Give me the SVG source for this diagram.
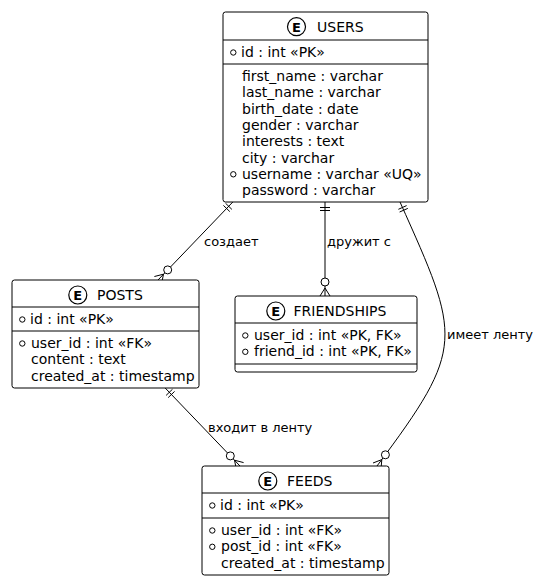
<svg xmlns="http://www.w3.org/2000/svg" width="538" height="581" viewBox="0 0 538 581">
<style>
text{font-family:"DejaVu Sans","Liberation Sans",sans-serif;fill:#000}
.box{fill:#fff;stroke:#000;stroke-width:1}
.sep{stroke:#000;stroke-width:1}
.t{font-size:14px}
.a{font-size:14px}
.spot{fill:#fff;stroke:#000;stroke-width:1.2}
.spotE{font-size:13px;font-weight:bold;text-anchor:middle}
.mk{fill:none;stroke:#000;stroke-width:1}
.ln{fill:none;stroke:#000;stroke-width:1}
.cir{fill:#fff;stroke:#000;stroke-width:1}
.lbl{font-size:13px}
</style>
<g id="connectors">
  <!-- USERS -> POSTS -->
  <path class="ln" d="M232.8,202 L158,280"/>
  <path class="ln" d="M225.5,203.2 L231.9,209.4 M223.4,205.4 L229.8,211.6"/>
  <path class="ln" d="M163.5,274.2 L161.6,283.5 M163.5,274.2 L154.4,276.5"/>
  <circle class="cir" cx="167.7" cy="269.9" r="4"/>
  <text class="lbl" x="204" y="246">создает</text>
  <!-- USERS -> FRIENDSHIPS -->
  <path class="ln" d="M325,202 L325,296"/>
  <path class="ln" d="M320,207.5 L330,207.5 M320,210.5 L330,210.5"/>
  <path class="ln" d="M325,288 L320,296 M325,288 L330,296"/>
  <circle class="cir" cx="325" cy="282" r="4"/>
  <text class="lbl" x="327" y="246">дружит с</text>
  <!-- USERS -> FEEDS -->
  <path class="ln" d="M400,202 C461,338 466,347 377,466"/>
  <path class="ln" d="M406.6,205.6 L398.4,209.3 M407.8,208.4 L399.6,212"/>
  <path class="ln" d="M381.8,459.6 L381,469 M381.8,459.6 L373,463"/>
  <circle class="cir" cx="385.4" cy="454.8" r="4"/>
  <text class="lbl" x="447" y="339">имеет ленту</text>
  <!-- POSTS -> FEEDS -->
  <path class="ln" d="M165.2,388 L240,466"/>
  <path class="ln" d="M172.5,389.2 L166.1,395.4 M174.6,391.4 L168.2,397.6"/>
  <path class="ln" d="M234.5,460.2 L243.6,462.6 M234.5,460.2 L236.4,469.5"/>
  <circle class="cir" cx="230.3" cy="455.9" r="4"/>
  <text class="lbl" x="208" y="432">входит в ленту</text>
</g>
<g id="users">
  <rect class="box" x="223" y="12" width="205" height="190" rx="2.5"/>
  <circle class="spot" cx="296.5" cy="26.7" r="9"/>
  <text class="spotE" x="296.5" y="31.5">E</text>
  <text class="t" x="317" y="31.7">USERS</text>
  <line class="sep" x1="223" y1="40" x2="428" y2="40"/>
  <circle class="mk" cx="233.3" cy="52.5" r="2.7"/>
  <text class="a" x="241" y="57">id : int «PK»</text>
  <line class="sep" x1="223" y1="64" x2="428" y2="64"/>
  <text class="a" x="242" y="81">first_name : varchar</text>
  <text class="a" x="242" y="97.3">last_name : varchar</text>
  <text class="a" x="242" y="113.6">birth_date : date</text>
  <text class="a" x="242" y="129.9">gender : varchar</text>
  <text class="a" x="242" y="146.2">interests : text</text>
  <text class="a" x="242" y="162.5">city : varchar</text>
  <circle class="mk" cx="233.3" cy="174.3" r="2.7"/>
  <text class="a" x="242" y="178.8">username : varchar «UQ»</text>
  <text class="a" x="242" y="195.1">password : varchar</text>
</g>
<g id="posts">
  <rect class="box" x="12" y="280" width="187" height="108" rx="2.5"/>
  <circle class="spot" cx="77.8" cy="295" r="9"/>
  <text class="spotE" x="77.8" y="299.8">E</text>
  <text class="t" x="97" y="300">POSTS</text>
  <line class="sep" x1="12" y1="307" x2="199" y2="307"/>
  <circle class="mk" cx="22.3" cy="319.5" r="2.7"/>
  <text class="a" x="30" y="324">id : int «PK»</text>
  <line class="sep" x1="12" y1="331" x2="199" y2="331"/>
  <circle class="mk" cx="22.3" cy="343.5" r="2.7"/>
  <text class="a" x="31" y="348">user_id : int «FK»</text>
  <text class="a" x="31" y="364.3">content : text</text>
  <text class="a" x="31" y="380.6">created_at : timestamp</text>
</g>
<g id="friendships">
  <rect class="box" x="235" y="296" width="182" height="76" rx="2.5"/>
  <circle class="spot" cx="275.8" cy="311" r="9"/>
  <text class="spotE" x="275.8" y="315.8">E</text>
  <text class="t" x="293.5" y="316">FRIENDSHIPS</text>
  <line class="sep" x1="235" y1="323" x2="417" y2="323"/>
  <circle class="mk" cx="245.3" cy="335.5" r="2.7"/>
  <text class="a" x="254" y="340">user_id : int «PK, FK»</text>
  <circle class="mk" cx="245.3" cy="351.8" r="2.7"/>
  <text class="a" x="254" y="356.3">friend_id : int «PK, FK»</text>
  <line class="sep" x1="235" y1="364" x2="417" y2="364"/>
</g>
<g id="feeds">
  <rect class="box" x="202" y="466" width="187" height="109" rx="2.5"/>
  <circle class="spot" cx="267.8" cy="481" r="9"/>
  <text class="spotE" x="267.8" y="485.8">E</text>
  <text class="t" x="287" y="486">FEEDS</text>
  <line class="sep" x1="202" y1="493" x2="389" y2="493"/>
  <circle class="mk" cx="212.3" cy="505.5" r="2.7"/>
  <text class="a" x="220" y="510">id : int «PK»</text>
  <line class="sep" x1="202" y1="518" x2="389" y2="518"/>
  <circle class="mk" cx="212.3" cy="530.5" r="2.7"/>
  <text class="a" x="221" y="535">user_id : int «FK»</text>
  <circle class="mk" cx="212.3" cy="546.8" r="2.7"/>
  <text class="a" x="221" y="551.3">post_id : int «FK»</text>
  <text class="a" x="221" y="567.6">created_at : timestamp</text>
</g>
</svg>
